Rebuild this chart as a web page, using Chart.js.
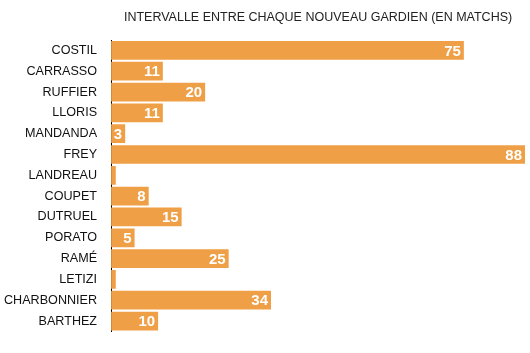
<!DOCTYPE html>
<html lang="fr">
<head>
<meta charset="UTF-8">
<title>Intervalle entre chaque nouveau gardien</title>
<script src="https://cdn.jsdelivr.net/npm/chart.js"></script>
<style>
  body { margin: 0; background: #fff; }
</style>
</head>
<body>
<canvas id="myChart" width="530" height="353"></canvas>
<script>
const gardiens = ['COSTIL', 'CARRASSO', 'RUFFIER', 'LLORIS', 'MANDANDA', 'FREY', 'LANDREAU',
  'COUPET', 'DUTRUEL', 'PORATO', 'RAMÉ', 'LETIZI', 'CHARBONNIER', 'BARTHEZ'];
const matchs = [75, 11, 20, 11, 3, 88, 1, 8, 15, 5, 25, 1, 34, 10];

// valeurs en blanc au bout de chaque barre
const valeurs = {
  id: 'valeurs',
  afterDatasetsDraw(chart) {
    const ctx = chart.ctx;
    const meta = chart.getDatasetMeta(0);
    ctx.save();
    ctx.fillStyle = '#fff';
    ctx.font = 'bold 15px "Liberation Sans", Arial, sans-serif';
    ctx.textAlign = 'right';
    ctx.textBaseline = 'middle';
    meta.data.forEach((bar, i) => {
      if (matchs[i] < 2) return;
      ctx.fillText(matchs[i], bar.x - 3, bar.y + 1);
    });
    ctx.restore();
  }
};

new Chart(document.getElementById('myChart'), {
  type: 'bar',
  data: {
    labels: gardiens,
    datasets: [{
      data: matchs,
      backgroundColor: '#EF9F45',
      barPercentage: 0.9,
      categoryPercentage: 1
    }]
  },
  options: {
    indexAxis: 'y',
    responsive: false,
    animation: false,
    layout: { padding: { left: 4, right: 5, top: 0, bottom: 12 } },
    plugins: {
      legend: { display: false },
      tooltip: { enabled: false },
      title: {
        display: true,
        text: 'INTERVALLE ENTRE CHAQUE NOUVEAU GARDIEN (EN MATCHS)',
        fullSize: false,
        color: '#222',
        font: { family: '"Liberation Sans", Arial, sans-serif', size: 12.5, weight: 'normal' },
        padding: { top: 10, bottom: 15 }
      }
    },
    scales: {
      x: { display: false, min: 0, max: 88 },
      y: {
        grid: { display: false, drawTicks: false },
        border: { display: true, color: '#000', width: 1 },
        ticks: {
          color: '#111',
          padding: 14,
          font: { family: '"Liberation Sans", Arial, sans-serif', size: 12.6 }
        },
        afterFit(scale) { scale.width -= 14; }
      }
    }
  },
  plugins: [valeurs]
});
</script>
</body>
</html>
